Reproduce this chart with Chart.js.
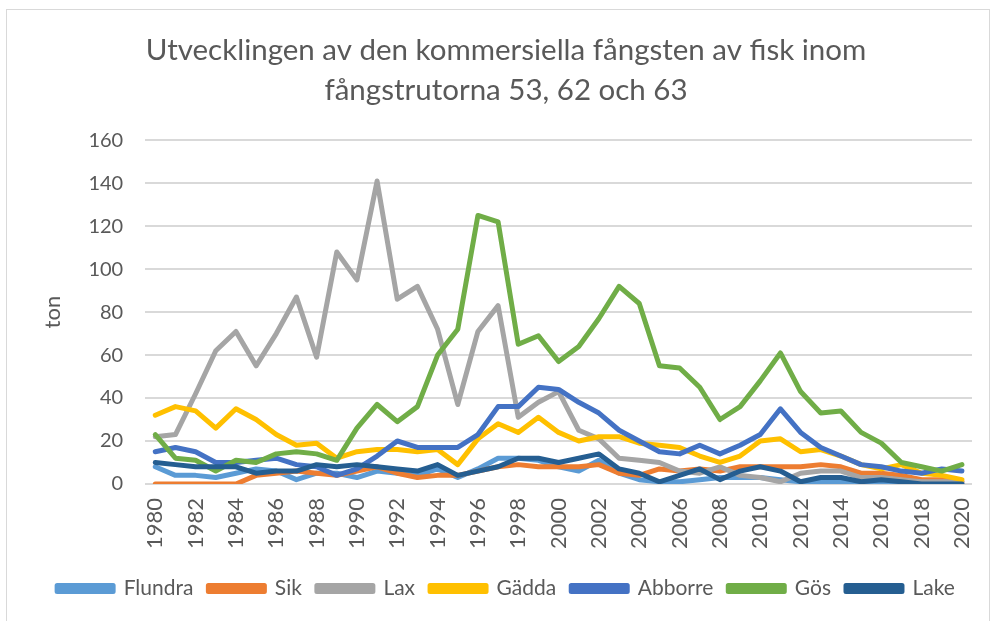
<!DOCTYPE html>
<html>
<head>
<meta charset="utf-8">
<script src="https://cdn.jsdelivr.net/npm/chart.js@4/dist/chart.umd.min.js"></script>
<style>
  body { margin: 0; background: #fff; }
  #frame { position: absolute; left: 6px; top: 9px; width: 982px; height: 640px; border: 1px solid #d9d9d9; }
  #wrap { position: absolute; left: 0; top: 0; width: 992px; height: 621px; }
</style>
</head>
<body>
<div id="frame"></div>
<div id="wrap"><canvas id="myChart"></canvas></div>
<script>
// år 1980-2020
const years = [];
for (let y = 1980; y <= 2020; y++) years.push(String(y));

const flundra = [8, 4, 4, 3, 5, 7, 6, 2, 5, 5, 3, 6, 5, 4, 7, 3, 7, 12, 12, 11,
                 8, 6, 11, 5, 2, 1, 1, 2, 3, 3, 3, 2, 1, 1, 1, 0, 0, 0, 0, 0, 0];
const sik = [0, 0, 0, 0, 0, 4, 5, 6, 5, 4, 6, 8, 5, 3, 4, 4, 6, 8, 9, 8,
             8, 8, 9, 5, 4, 7, 6, 7, 6, 8, 8, 8, 8, 9, 8, 5, 5, 4, 2, 2, 1];
const lax = [22, 23, 42, 62, 71, 55, 70, 87, 59, 108, 95, 141, 86, 92, 72, 37, 71, 83, 31, 38,
             43, 25, 21, 12, 11, 10, 6, 5, 8, 4, 3, 1, 5, 6, 6, 3, 3, 2, 1, 1, 1];
const gadda = [32, 36, 34, 26, 35, 30, 23, 18, 19, 12, 15, 16, 16, 15, 16, 9, 21, 28, 24, 31,
               24, 20, 22, 22, 19, 18, 17, 13, 10, 13, 20, 21, 15, 16, 13, 9, 7, 9, 5, 4, 2];
const abborre = [15, 17, 15, 10, 10, 11, 12, 9, 8, 4, 7, 13, 20, 17, 17, 17, 23, 36, 36, 45,
                 44, 38, 33, 25, 20, 15, 14, 18, 14, 18, 23, 35, 24, 17, 13, 9, 8, 6, 5, 7, 6];
const gos = [23, 12, 11, 6, 11, 10, 14, 15, 14, 11, 26, 37, 29, 36, 60, 72, 125, 122, 65, 69,
             57, 64, 77, 92, 84, 55, 54, 45, 30, 36, 48, 61, 43, 33, 34, 24, 19, 10, 8, 6, 9];
const lake = [10, 9, 8, 8, 8, 5, 6, 6, 9, 8, 9, 8, 7, 6, 9, 4, 6, 8, 12, 12,
              10, 12, 14, 7, 5, 1, 4, 7, 2, 6, 8, 6, 1, 3, 3, 1, 2, 1, 0, 0, 0];

const seriesNames = ["Flundra", "Sik", "Lax", "Gädda", "Abborre", "Gös", "Lake"];
const seriesData = [flundra, sik, lax, gadda, abborre, gos, lake];
const seriesColors = ["#5b9bd5", "#ed7d31", "#a5a5a5", "#ffc000", "#4472c4", "#70ad47", "#255e91"];

const grey = "#595959";
const font = "Lato, 'Open Sans', sans-serif";

// senare serier ritas ovanpå (som i Excel)
const datasets = seriesNames.map((name, i) => ({
    label: name,
    data: seriesData[i],
    borderColor: seriesColors[i],
    backgroundColor: seriesColors[i],
    borderWidth: 5,
    pointRadius: 0,
    tension: 0,
    borderCapStyle: "round",
    borderJoinStyle: "round",
    order: -i
}));

new Chart("myChart", {
    type: "line",
    data: { labels: years, datasets: datasets },
    options: {
        responsive: true,
        maintainAspectRatio: false,
        animation: false,
        layout: { padding: { left: 40, right: 20, top: 30, bottom: 12 } },
        plugins: {
            title: {
                display: true,
                text: ["Utvecklingen av den kommersiella fångsten av fisk inom", "fångstrutorna 53, 62 och 63"],
                color: grey,
                font: { family: font, size: 29.5, weight: "normal", lineHeight: 1.36 },
                padding: { top: 0, bottom: 30 }
            },
            legend: {
                position: "bottom",
                labels: {
                    color: grey,
                    font: { family: font, size: 21 },
                    boxWidth: 56,
                    boxHeight: 6,
                    padding: 15,
                    sort: (a, b) => a.datasetIndex - b.datasetIndex
                }
            },
            tooltip: { enabled: false }
        },
        scales: {
            x: {
                offset: true,
                grid: { display: false, drawTicks: false },
                border: { display: false },
                afterFit: function (scale) { scale.paddingRight = 0; },
                ticks: {
                    autoSkip: false,
                    maxRotation: 90,
                    minRotation: 90,
                    color: grey,
                    font: { family: font, size: 22 },
                    padding: 14,
                    callback: function (v, i) { return i % 2 === 0 ? years[i] : null; }
                }
            },
            y: {
                min: 0,
                max: 160,
                grid: { color: "#d9d9d9", lineWidth: 2, drawTicks: false },
                border: { display: false },
                ticks: { stepSize: 20, color: grey, font: { family: font, size: 20 }, padding: 22 },
                title: {
                    display: true, text: "ton", color: grey,
                    font: { family: font, size: 22 },
                    padding: 0
                }
            }
        }
    }
});
</script>
</body>
</html>
